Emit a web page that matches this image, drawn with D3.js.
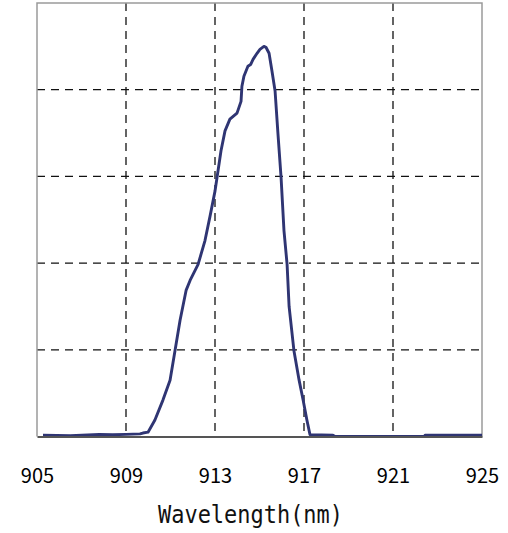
<!DOCTYPE html>
<html>
<head>
<meta charset="utf-8">
<script src="https://cdn.jsdelivr.net/npm/d3@7"></script>
<style>
  body { margin: 0; background: #fff; }
  .grid line { stroke: #111; stroke-width: 1.3; stroke-dasharray: 8,6; }
  .tick-label { font-family: "Noto Sans CJK SC", "Noto Sans", sans-serif; font-size: 20px; font-weight: 400; fill: #000; }
  .axis-title { font-family: "DejaVu Sans Mono", "Liberation Mono", monospace; font-size: 24px; fill: #111; }
</style>
</head>
<body>
<svg id="chart" width="508" height="533"></svg>
<script>
// wavelength (nm) and relative intensity
const wavelength = [905.27, 906.5, 907.8, 908.4, 909.0, 909.63, 909.76, 909.99, 910.30, 910.66, 910.98,
  911.20, 911.43, 911.70, 911.88, 912.24, 912.55, 912.78, 913.00, 913.09, 913.27, 913.45, 913.67,
  913.99, 914.17, 914.21, 914.30, 914.48, 914.60, 914.71, 914.89, 915.02, 915.20, 915.29, 915.43,
  915.56, 915.70, 915.83, 915.97, 916.10, 916.24, 916.33, 916.55, 916.78, 916.96, 917.13, 917.27,
  918.30, 918.4, 922.4, 922.44, 925.0];
const intensity = [0.003, 0.002, 0.005, 0.004, 0.005, 0.006, 0.008, 0.010, 0.038, 0.084, 0.130,
  0.197, 0.268, 0.337, 0.360, 0.397, 0.452, 0.509, 0.566, 0.597, 0.659, 0.705, 0.732,
  0.746, 0.773, 0.808, 0.831, 0.854, 0.858, 0.870, 0.884, 0.893, 0.900, 0.898, 0.884,
  0.843, 0.797, 0.698, 0.597, 0.475, 0.397, 0.300, 0.197, 0.130, 0.084, 0.038, 0.004,
  0.003, 0.0, 0.0, 0.003, 0.003];
const xTicks = [905, 909, 913, 917, 921, 925];
const yTicks = [0.2, 0.4, 0.6, 0.8];
const xTitle = "Wavelength(nm)";

const svg = d3.select("#chart");
const mLeft = 37, mRight = 482, mTop = 3, mBottom = 436.5;

const x = d3.scaleLinear().domain([905, 925]).range([mLeft, mRight]);
const y = d3.scaleLinear().domain([0, 1]).range([mBottom, mTop]);

// dashed grid
const grid = svg.append("g").attr("class", "grid");
grid.selectAll(".vx")
    .data(xTicks.slice(1, -1))
    .enter()
    .append("line")
    .attr("x1", d => x(d)).attr("x2", d => x(d))
    .attr("y1", mTop).attr("y2", mBottom);
grid.selectAll(".hy")
    .data(yTicks)
    .enter()
    .append("line")
    .attr("x1", mLeft).attr("x2", mRight)
    .attr("y1", d => y(d)).attr("y2", d => y(d));

// frame
svg.append("path")
    .attr("d", `M${mLeft},${mBottom}V${mTop}H${mRight}V${mBottom}`)
    .attr("fill", "none")
    .attr("stroke", "#9a9a9a")
    .attr("stroke-width", 1.5);

// spectrum
const line = d3.line()
    .x((d, i) => x(wavelength[i]))
    .y(d => y(d));

svg.append("path")
    .datum(intensity)
    .attr("d", line)
    .attr("fill", "none")
    .attr("stroke", "#2f3573")
    .attr("stroke-width", 2.9)
    .attr("stroke-linejoin", "round");

// bottom axis
const xAxis = d3.axisBottom(x).tickValues(xTicks).tickSize(0).tickPadding(0).tickFormat(d3.format("d"));
const gx = svg.append("g").attr("transform", `translate(0,${mBottom})`).call(xAxis);
gx.select(".domain").attr("stroke", "#555").attr("stroke-width", 1.8);
gx.selectAll(".tick text")
    .attr("class", "tick-label")
    .attr("y", 46.5)
    .attr("dy", 0)
    .attr("fill", "#000");

svg.append("text")
    .attr("class", "axis-title")
    .attr("x", 250.5)
    .attr("y", 523)
    .attr("text-anchor", "middle")
    .attr("textLength", 185)
    .attr("lengthAdjust", "spacingAndGlyphs")
    .text(xTitle);
</script>
</body>
</html>
